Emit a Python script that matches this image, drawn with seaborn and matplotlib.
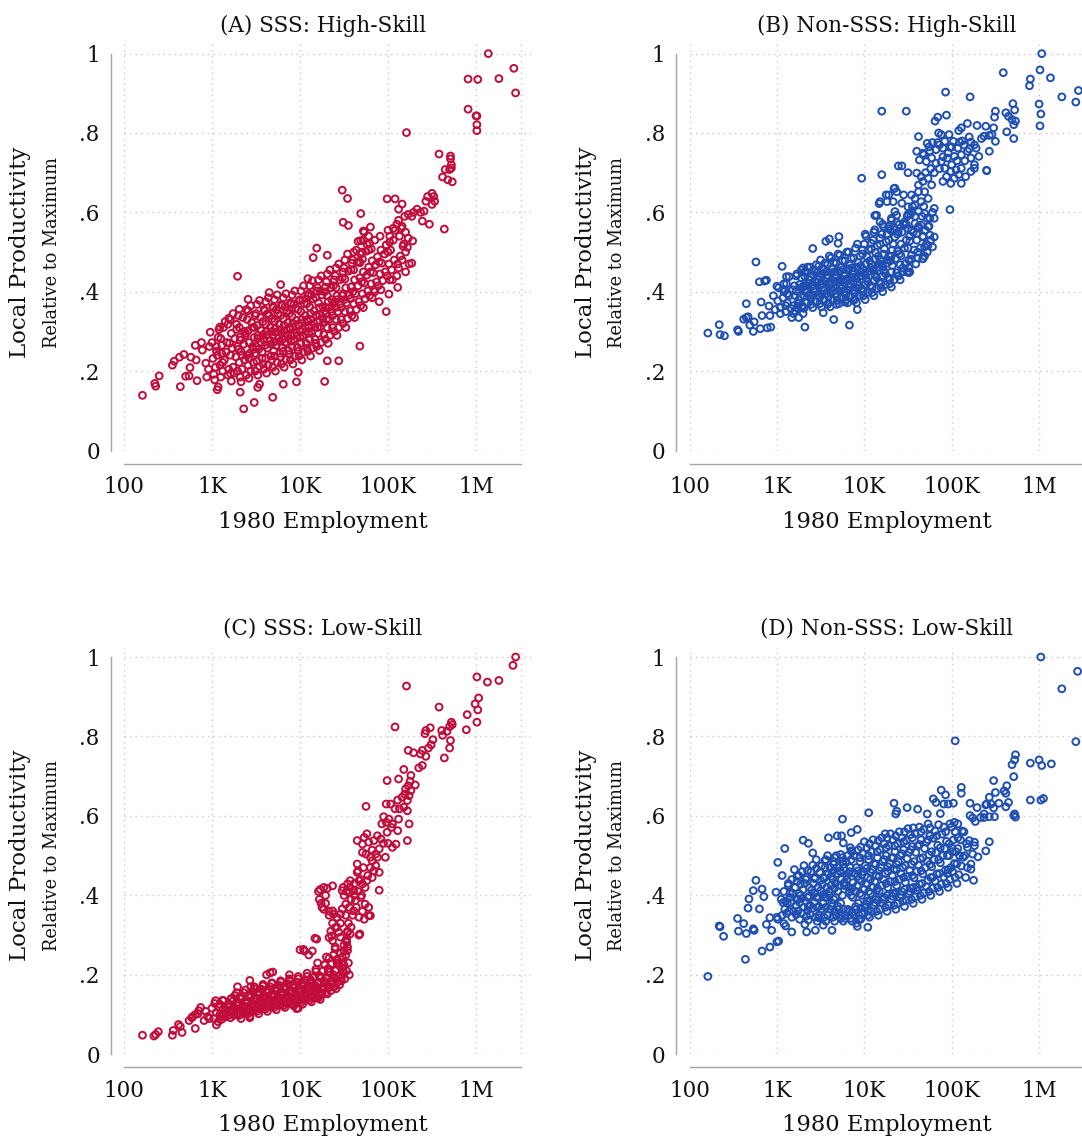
import numpy as np
import pandas as pd
import matplotlib
matplotlib.use("Agg")
import matplotlib.pyplot as plt
from matplotlib.ticker import NullLocator, FixedLocator, FixedFormatter
import seaborn as sns

# ---------------- data: (log10 1980 employment, local productivity relative to max) ----------------
a_tail = [(2.21,0.139),(2.35,0.169),(2.36,0.162),(2.40,0.188),(2.55,0.215),(2.57,0.225),(2.64,0.161),(2.63,0.235),
          (2.68,0.242),(2.70,0.187),(2.74,0.188),(2.76,0.235),(2.81,0.265),(2.75,0.209),(2.82,0.228),(2.83,0.176),
          (2.88,0.272),(2.89,0.253),(2.93,0.220),(2.94,0.185),(3.00,0.272),(3.05,0.250),(3.06,0.153),(3.07,0.160),
          (3.09,0.311),(3.10,0.185),(3.19,0.333),(3.21,0.194),(3.29,0.439),(3.31,0.356),(3.32,0.147),(3.33,0.173),
          (3.41,0.381),(3.48,0.121),(3.36,0.105),(3.52,0.159),(3.54,0.167),(3.65,0.398),(3.69,0.134),(3.78,0.418),
          (3.81,0.167),(3.96,0.173),(3.98,0.197),(4.09,0.433),(4.15,0.486),(4.19,0.510),(4.31,0.492),(4.28,0.174),
          (4.31,0.226),(4.44,0.226),(4.48,0.656),(4.54,0.635),(4.49,0.575),(4.55,0.567),(4.68,0.263),(4.69,0.597),
          (4.69,0.529),(4.72,0.529),(4.72,0.553),(4.80,0.563),(4.68,0.473),(4.99,0.634),(5.08,0.634),(4.98,0.350),
          (5.01,0.394),(5.11,0.411),(5.21,0.801),(5.16,0.621),(5.12,0.608),(5.19,0.590),(5.23,0.595),(5.27,0.590),
          (5.23,0.535),(5.28,0.528),(5.22,0.512),(5.20,0.450),(5.24,0.470),(5.27,0.472),(5.29,0.600),(5.33,0.608),
          (5.37,0.600),(5.41,0.603),(5.43,0.628),(5.39,0.578),(5.50,0.620),(5.53,0.628),(5.45,0.640),(5.50,0.648),
          (5.52,0.640),(5.47,0.570),(5.58,0.747),(5.62,0.689),(5.65,0.708),(5.68,0.682),(5.64,0.558),(5.71,0.735),
          (5.71,0.742),(5.72,0.720),(5.72,0.712),(5.70,0.708),(5.73,0.677),(5.91,0.936),(5.91,0.860),(6.00,0.843),
          (6.01,0.843),(6.01,0.821),(6.01,0.806),(6.02,0.935),(6.14,1.000),(6.26,0.937),(6.43,0.963),(6.45,0.901),
          (4.73,0.550),(4.76,0.520),(4.78,0.540),(4.66,0.527),(5.00,0.555),(5.02,0.540),(5.06,0.560),(5.10,0.570),
          (5.12,0.580),(5.15,0.560),(5.20,0.550),(5.18,0.520),(5.20,0.500),(5.16,0.480),(5.11,0.470),(5.10,0.440),
          (5.05,0.430),(4.85,0.400),(4.90,0.375)]
a_core = [(2.96,0.205),(2.98,0.298),(3.01,0.232),(2.97,0.262),(3.02,0.192),
          (3.04,0.210),(3.07,0.285),(3.06,0.240),(3.03,0.178),(3.08,0.305),(3.05,0.262),
          (3.12,0.200),(3.14,0.228),(3.17,0.272),(3.13,0.310),(3.16,0.248),(3.18,0.190),(3.11,0.265),(3.15,0.325),
          (3.22,0.175),(3.24,0.210),(3.27,0.236),(3.23,0.258),(3.26,0.282),(3.28,0.305),(3.21,0.330),(3.25,0.195),(3.29,0.262),(3.24,0.345),
          (3.32,0.185),(3.34,0.205),(3.37,0.228),(3.33,0.250),(3.36,0.268),(3.38,0.290),(3.31,0.310),(3.35,0.335),(3.39,0.355),(3.34,0.240),(3.37,0.300),(3.32,0.278),
          (3.42,0.182),(3.44,0.200),(3.47,0.222),(3.43,0.245),(3.46,0.262),(3.48,0.285),(3.41,0.302),(3.45,0.322),(3.49,0.340),(3.44,0.365),(3.47,0.255),(3.42,0.232),(3.46,0.310),
          (3.52,0.190),(3.54,0.212),(3.57,0.232),(3.53,0.255),(3.56,0.272),(3.58,0.292),(3.51,0.315),(3.55,0.335),(3.59,0.355),(3.54,0.378),(3.57,0.248),(3.52,0.282),(3.56,0.302),(3.58,0.218),
          (3.62,0.195),(3.64,0.215),(3.67,0.238),(3.63,0.258),(3.66,0.278),(3.68,0.300),(3.61,0.318),(3.65,0.340),(3.69,0.362),(3.64,0.385),(3.67,0.268),(3.62,0.290),(3.66,0.310),(3.68,0.228),(3.63,0.345),
          (3.72,0.200),(3.74,0.222),(3.77,0.245),(3.73,0.265),(3.76,0.285),(3.78,0.305),(3.71,0.325),(3.75,0.345),(3.79,0.368),(3.74,0.392),(3.77,0.275),(3.72,0.298),(3.76,0.318),(3.78,0.235),(3.73,0.355),
          (3.82,0.210),(3.84,0.230),(3.87,0.252),(3.83,0.272),(3.86,0.292),(3.88,0.310),(3.81,0.332),(3.85,0.352),(3.89,0.372),(3.84,0.395),(3.87,0.282),(3.82,0.302),(3.86,0.322),(3.88,0.242),(3.83,0.362),
          (3.92,0.218),(3.94,0.238),(3.97,0.260),(3.93,0.280),(3.96,0.298),(3.98,0.318),(3.91,0.338),(3.95,0.358),(3.99,0.378),(3.94,0.402),(3.97,0.290),(3.92,0.310),(3.96,0.328),(3.98,0.250),(3.93,0.368),
          (4.02,0.228),(4.04,0.248),(4.07,0.270),(4.03,0.290),(4.06,0.310),(4.08,0.330),(4.01,0.350),(4.05,0.370),(4.09,0.390),(4.04,0.415),(4.07,0.300),(4.02,0.320),(4.06,0.340),(4.08,0.258),(4.03,0.380),
          (4.12,0.238),(4.14,0.258),(4.17,0.280),(4.13,0.300),(4.16,0.320),(4.18,0.340),(4.11,0.362),(4.15,0.382),(4.19,0.402),(4.14,0.428),(4.17,0.310),(4.12,0.330),(4.16,0.352),(4.18,0.270),(4.13,0.392),
          (4.22,0.252),(4.24,0.272),(4.27,0.292),(4.23,0.312),(4.26,0.332),(4.28,0.352),(4.21,0.372),(4.25,0.392),(4.29,0.412),(4.24,0.440),(4.27,0.322),(4.22,0.342),(4.26,0.362),(4.23,0.402),
          (4.32,0.270),(4.34,0.290),(4.37,0.310),(4.33,0.330),(4.36,0.350),(4.38,0.370),(4.31,0.390),(4.35,0.410),(4.39,0.430),(4.34,0.455),(4.37,0.340),(4.32,0.360),(4.36,0.380),
          (4.42,0.290),(4.44,0.310),(4.47,0.330),(4.43,0.350),(4.46,0.370),(4.48,0.390),(4.41,0.410),(4.45,0.430),(4.49,0.450),(4.44,0.470),(4.47,0.360),(4.42,0.380),
          (4.52,0.310),(4.54,0.332),(4.57,0.352),(4.53,0.372),(4.56,0.392),(4.58,0.412),(4.51,0.432),(4.55,0.452),(4.59,0.472),(4.54,0.495),(4.57,0.382),
          (4.62,0.335),(4.64,0.355),(4.67,0.375),(4.63,0.395),(4.66,0.415),(4.68,0.435),(4.61,0.455),(4.65,0.475),(4.69,0.495),(4.64,0.505),
          (4.72,0.360),(4.74,0.382),(4.77,0.402),(4.73,0.422),(4.76,0.442),(4.78,0.462),(4.71,0.482),(4.75,0.502),(4.79,0.522),
          (4.82,0.385),(4.84,0.405),(4.87,0.425),(4.83,0.448),(4.86,0.468),(4.88,0.488),(4.81,0.508),(4.85,0.530),
          (4.92,0.405),(4.94,0.428),(4.97,0.450),(4.93,0.472),(4.96,0.495),(4.98,0.518),(4.91,0.540),
          (5.02,0.430),(5.04,0.455),(5.07,0.480),(5.03,0.505),(5.06,0.530),(5.08,0.555),
          (5.12,0.460),(5.14,0.490),(5.17,0.515),(5.13,0.540),(5.16,0.565)]
a_core2 = [(3.09,0.215),(3.11,0.245),(3.10,0.282),(3.12,0.222),
           (3.19,0.205),(3.21,0.240),(3.20,0.270),(3.22,0.295),(3.18,0.318),
           (3.29,0.200),(3.31,0.222),(3.30,0.255),(3.32,0.285),(3.28,0.318),(3.30,0.340),
           (3.39,0.190),(3.41,0.215),(3.40,0.240),(3.42,0.272),(3.38,0.295),(3.40,0.330),(3.41,0.352),
           (3.49,0.200),(3.51,0.225),(3.50,0.262),(3.52,0.290),(3.48,0.310),(3.50,0.345),(3.51,0.368),(3.49,0.245),
           (3.59,0.205),(3.61,0.232),(3.60,0.265),(3.62,0.300),(3.58,0.325),(3.60,0.352),(3.61,0.375),(3.59,0.280),
           (3.69,0.210),(3.71,0.238),(3.70,0.272),(3.72,0.308),(3.68,0.332),(3.70,0.360),(3.71,0.380),(3.69,0.290),(3.70,0.250),
           (3.79,0.218),(3.81,0.250),(3.80,0.280),(3.82,0.315),(3.78,0.340),(3.80,0.365),(3.81,0.385),(3.79,0.295),(3.80,0.260),
           (3.89,0.228),(3.91,0.262),(3.90,0.290),(3.92,0.320),(3.88,0.345),(3.90,0.370),(3.91,0.392),(3.89,0.305),(3.90,0.275),
           (3.99,0.238),(4.01,0.270),(4.00,0.300),(4.02,0.330),(3.98,0.355),(4.00,0.380),(4.01,0.402),(3.99,0.315),(4.00,0.285),
           (4.09,0.250),(4.11,0.280),(4.10,0.310),(4.12,0.345),(4.08,0.370),(4.10,0.395),(4.11,0.415),(4.09,0.325),(4.10,0.295),
           (4.19,0.262),(4.21,0.295),(4.20,0.325),(4.22,0.360),(4.18,0.385),(4.20,0.410),(4.21,0.430),(4.19,0.340),(4.20,0.310),
           (4.29,0.280),(4.31,0.310),(4.30,0.345),(4.32,0.375),(4.28,0.400),(4.30,0.425),(4.31,0.445),(4.29,0.360),(4.30,0.330),
           (4.39,0.300),(4.41,0.330),(4.40,0.360),(4.42,0.390),(4.38,0.415),(4.40,0.440),(4.41,0.460),(4.39,0.375),
           (4.49,0.320),(4.51,0.350),(4.50,0.380),(4.52,0.410),(4.48,0.435),(4.50,0.460),(4.51,0.480),(4.49,0.395),
           (4.59,0.340),(4.61,0.370),(4.60,0.400),(4.62,0.430),(4.58,0.455),(4.60,0.480),(4.61,0.500),
           (4.69,0.365),(4.71,0.395),(4.70,0.425),(4.72,0.450),(4.68,0.475),(4.70,0.500),
           (4.79,0.390),(4.81,0.420),(4.80,0.450),(4.82,0.478),(4.78,0.505),
           (4.89,0.415),(4.91,0.445),(4.90,0.475),(4.92,0.505),
           (4.99,0.440),(5.01,0.470),(5.00,0.500),(5.02,0.525)]

b_tail = [(2.21,0.296),(2.34,0.317),(2.35,0.292),(2.40,0.289),(2.55,0.304),(2.56,0.300),(2.62,0.331),(2.65,0.335),
          (2.67,0.337),(2.65,0.370),(2.69,0.316),(2.73,0.300),(2.74,0.324),(2.76,0.475),(2.80,0.425),(2.86,0.427),
          (2.88,0.429),(2.82,0.374),(2.83,0.340),(2.81,0.307),(2.89,0.309),(2.93,0.311),(2.91,0.364),(2.92,0.340),
          (3.00,0.414),(3.06,0.464),(3.01,0.377),(3.11,0.438),(3.14,0.438),(3.17,0.335),(3.25,0.335),(3.32,0.311),
          (3.41,0.509),(3.56,0.527),(3.60,0.533),(3.71,0.539),(3.70,0.522),(3.65,0.330),(3.83,0.316),(3.30,0.460),
          (3.32,0.450),(2.96,0.390),(3.02,0.410),(3.08,0.400),(3.12,0.395),(2.98,0.355),(3.04,0.345),(3.10,0.350),
          (3.19,0.345),(3.24,0.360),(3.30,0.345),(3.53,0.347),(3.92,0.355),(4.51,0.448),(4.67,0.483),
          (6.03,1.000),(6.01,0.959),(6.13,0.939),(5.90,0.936),(5.89,0.919),(5.59,0.952),(6.26,0.891),(6.42,0.878),
          (6.45,0.907),(6.00,0.873),(6.02,0.848),(6.01,0.818),(4.93,0.903),(5.21,0.891),(4.20,0.855),(4.48,0.855),
          (4.98,0.607),(4.20,0.695),(3.97,0.686),(4.39,0.717),(4.43,0.717),(4.50,0.700),(4.17,0.622),(4.12,0.592),
          (4.25,0.644),(4.34,0.660),(5.40,0.706)]
b_core = [(3.04,0.360),(3.07,0.385),(3.12,0.372),(3.09,0.405),(3.14,0.390),(3.16,0.358),(3.11,0.420),(3.18,0.405),
          (3.21,0.352),(3.24,0.370),(3.27,0.388),(3.22,0.402),(3.26,0.418),(3.28,0.435),(3.23,0.445),(3.25,0.380),(3.29,0.360),(3.27,0.410),
          (3.31,0.358),(3.34,0.372),(3.37,0.390),(3.32,0.405),(3.36,0.420),(3.38,0.438),(3.33,0.452),(3.35,0.462),(3.39,0.382),(3.34,0.398),(3.37,0.430),(3.31,0.415),
          (3.41,0.360),(3.44,0.375),(3.47,0.392),(3.42,0.408),(3.46,0.422),(3.48,0.440),(3.43,0.455),(3.45,0.468),(3.49,0.385),(3.44,0.400),(3.47,0.430),(3.41,0.415),(3.46,0.448),
          (3.51,0.362),(3.54,0.378),(3.57,0.395),(3.52,0.410),(3.56,0.425),(3.58,0.442),(3.53,0.458),(3.55,0.472),(3.59,0.388),(3.54,0.402),(3.57,0.435),(3.51,0.418),(3.56,0.450),(3.58,0.368),
          (3.61,0.362),(3.64,0.378),(3.67,0.395),(3.62,0.410),(3.66,0.426),(3.68,0.442),(3.63,0.458),(3.65,0.474),(3.69,0.388),(3.64,0.402),(3.67,0.435),(3.61,0.418),(3.66,0.450),(3.68,0.368),(3.62,0.485),
          (3.71,0.370),(3.74,0.385),(3.77,0.400),(3.72,0.415),(3.76,0.430),(3.78,0.446),(3.73,0.462),(3.75,0.478),(3.79,0.392),(3.74,0.408),(3.77,0.440),(3.71,0.424),(3.76,0.456),(3.78,0.374),(3.72,0.492),
          (3.81,0.372),(3.84,0.388),(3.87,0.404),(3.82,0.420),(3.86,0.436),(3.88,0.452),(3.83,0.468),(3.85,0.484),(3.89,0.396),(3.84,0.412),(3.87,0.444),(3.81,0.428),(3.86,0.460),(3.88,0.378),(3.82,0.500),
          (3.91,0.372),(3.94,0.390),(3.97,0.408),(3.92,0.424),(3.96,0.440),(3.98,0.458),(3.93,0.474),(3.95,0.490),(3.99,0.400),(3.94,0.416),(3.97,0.450),(3.91,0.434),(3.96,0.466),(3.98,0.505),(3.92,0.520),
          (4.01,0.380),(4.04,0.398),(4.07,0.416),(4.02,0.434),(4.06,0.452),(4.08,0.470),(4.03,0.488),(4.05,0.506),(4.09,0.410),(4.04,0.425),(4.07,0.460),(4.01,0.443),(4.06,0.478),(4.08,0.522),(4.02,0.540),
          (4.11,0.390),(4.14,0.408),(4.17,0.426),(4.12,0.444),(4.16,0.462),(4.18,0.480),(4.13,0.498),(4.15,0.516),(4.19,0.420),(4.14,0.436),(4.17,0.470),(4.11,0.454),(4.16,0.490),(4.18,0.535),(4.12,0.556),
          (4.21,0.400),(4.24,0.418),(4.27,0.436),(4.22,0.454),(4.26,0.472),(4.28,0.490),(4.23,0.508),(4.25,0.526),(4.29,0.430),(4.24,0.446),(4.27,0.480),(4.21,0.464),(4.26,0.545),(4.28,0.565),
          (4.31,0.412),(4.34,0.430),(4.37,0.448),(4.32,0.466),(4.36,0.484),(4.38,0.502),(4.33,0.520),(4.35,0.538),(4.39,0.440),(4.34,0.556),(4.37,0.575),(4.31,0.490),
          (4.41,0.430),(4.44,0.450),(4.47,0.470),(4.42,0.490),(4.46,0.510),(4.48,0.530),(4.43,0.550),(4.45,0.570),(4.49,0.590),(4.44,0.460),
          (4.51,0.460),(4.54,0.482),(4.57,0.505),(4.52,0.528),(4.56,0.550),(4.58,0.572),(4.53,0.595),(4.55,0.615),
          (4.61,0.485),(4.64,0.510),(4.67,0.540),(4.62,0.565),(4.66,0.590),(4.68,0.615),
          (4.72,0.500),(4.76,0.530),(4.74,0.565),(4.78,0.600)]
b_core2 = [(3.10,0.365),(3.12,0.395),(3.08,0.420),
           (3.19,0.365),(3.21,0.390),(3.20,0.415),(3.22,0.440),
           (3.29,0.365),(3.31,0.390),(3.30,0.412),(3.32,0.438),(3.28,0.455),
           (3.39,0.368),(3.41,0.392),(3.40,0.418),(3.42,0.442),(3.38,0.462),
           (3.49,0.370),(3.51,0.395),(3.50,0.420),(3.52,0.445),(3.48,0.465),(3.50,0.480),
           (3.59,0.372),(3.61,0.398),(3.60,0.422),(3.62,0.448),(3.58,0.468),(3.60,0.490),
           (3.69,0.378),(3.71,0.402),(3.70,0.428),(3.72,0.452),(3.68,0.472),(3.70,0.495),
           (3.79,0.380),(3.81,0.405),(3.80,0.432),(3.82,0.458),(3.78,0.478),(3.80,0.500),
           (3.89,0.382),(3.91,0.410),(3.90,0.438),(3.92,0.462),(3.88,0.485),(3.90,0.510),
           (3.99,0.390),(4.01,0.418),(4.00,0.445),(4.02,0.470),(3.98,0.495),(4.00,0.520),(4.01,0.545),
           (4.09,0.398),(4.11,0.428),(4.10,0.455),(4.12,0.482),(4.08,0.508),(4.10,0.530),(4.11,0.550),
           (4.19,0.410),(4.21,0.440),(4.20,0.468),(4.22,0.495),(4.18,0.520),(4.20,0.545),(4.21,0.570),
           (4.29,0.420),(4.31,0.450),(4.30,0.478),(4.32,0.505),(4.28,0.530),(4.30,0.555),(4.31,0.580),
           (4.39,0.440),(4.41,0.468),(4.40,0.495),(4.42,0.520),(4.38,0.545),(4.40,0.570),
           (4.49,0.450),(4.51,0.480),(4.50,0.510),(4.52,0.540),(4.48,0.570),(4.50,0.595),
           (4.59,0.470),(4.61,0.500),(4.60,0.530),(4.62,0.560),(4.58,0.590),
           (4.69,0.490),(4.71,0.520),(4.70,0.555),(4.72,0.585)]
b_upper = [(4.62,0.652),(4.69,0.652),(4.73,0.635),(4.65,0.627),(4.58,0.635),(4.54,0.644),(4.45,0.644),(4.37,0.652),
           (4.35,0.661),(4.28,0.644),(4.18,0.627),(4.26,0.627),(4.33,0.627),(4.43,0.623),(4.50,0.614),(4.58,0.619),
           (4.54,0.602),(4.62,0.602),(4.69,0.597),(4.75,0.585),(4.80,0.585),(4.80,0.610),(4.14,0.593),(4.18,0.576),
           (4.22,0.564),(4.28,0.559),(4.35,0.602),(4.37,0.593),(4.31,0.585),(4.39,0.551),(4.46,0.576),(4.50,0.559),
           (4.54,0.555),(4.60,0.547),(4.65,0.568),(4.73,0.564),(4.67,0.538),(4.73,0.517),(4.78,0.513),(4.80,0.538),
           (4.75,0.543),(4.69,0.513),(4.67,0.484),(4.54,0.492),(4.52,0.450),(4.60,0.699),(4.65,0.690),(4.67,0.678),
           (4.73,0.686),(4.77,0.669),(4.62,0.669),(4.94,0.845),(4.84,0.840),(4.81,0.830),(4.97,0.796),(4.88,0.796),
           (4.85,0.800),(4.62,0.791),(4.72,0.774),(4.78,0.776),(4.84,0.776),(4.92,0.779),(5.02,0.779),(5.09,0.777),
           (5.14,0.770),(5.22,0.777),(5.26,0.770),(4.60,0.754),(4.67,0.749),(4.75,0.755),(4.82,0.758),(4.90,0.762),
           (4.98,0.764),(5.07,0.762),(5.11,0.745),(5.18,0.754),(5.28,0.762),(5.22,0.737),(5.31,0.741),(5.26,0.720),
           (4.63,0.732),(4.71,0.728),(4.77,0.737),(4.82,0.724),(4.88,0.728),(4.95,0.737),(5.03,0.741),(4.92,0.711),
           (4.99,0.703),(5.05,0.707),(5.11,0.711),(5.03,0.686),(5.11,0.673),(4.99,0.673),(5.22,0.703),(5.26,0.711),
           (4.90,0.678),(5.39,0.817),(5.29,0.819),(5.18,0.824),(5.11,0.813),(5.08,0.806),(5.50,0.779),(5.46,0.796),
           (5.43,0.794),(5.37,0.792),(5.34,0.786),(5.43,0.754),(5.40,0.705),(5.69,0.834),(5.65,0.842),(5.62,0.851),
           (5.73,0.830),(5.72,0.858),(5.71,0.821),(5.70,0.874),(5.50,0.855),(5.49,0.840),(5.48,0.813),(5.63,0.803),
           (5.71,0.786),(4.90,0.740),(4.96,0.750),(5.00,0.720),(5.06,0.730),(5.15,0.730),(5.20,0.760),(4.86,0.710),
           (4.94,0.690),(5.08,0.695),(5.16,0.690),(4.80,0.700),(4.76,0.710),(4.70,0.700),(4.68,0.745),(4.74,0.765),
           (4.86,0.770),(5.00,0.765),(5.12,0.780),(5.20,0.790)]

c_tail = [(2.21,0.048),(2.34,0.046),(2.36,0.050),(2.39,0.057),(2.55,0.048),(2.56,0.060),(2.66,0.055),(2.62,0.075),
          (2.64,0.070),(2.74,0.085),(2.78,0.095),(2.81,0.100),(2.85,0.110),(2.87,0.118),(2.77,0.092),(2.81,0.065),
          (2.84,0.102),(2.91,0.085),(2.95,0.095),(2.97,0.090),(3.00,0.116),(3.05,0.074),(3.04,0.135),(3.13,0.135),
          (2.93,0.108),(3.43,0.092),(3.62,0.200),(3.66,0.205),(3.69,0.207),(3.43,0.186),(3.88,0.200),(3.96,0.115),
          (3.98,0.116),(4.19,0.290),(4.04,0.264),(4.00,0.263),(4.05,0.260),(4.10,0.250),(4.14,0.260),(4.19,0.142),
          (3.29,0.170),(3.44,0.170),(4.17,0.292),(4.21,0.410),(4.23,0.415),(4.27,0.420),(4.29,0.400),(4.25,0.370),
          (4.27,0.365),(4.33,0.360),(4.33,0.350),(4.22,0.390),(4.24,0.380),(4.53,0.290),(4.54,0.310),(4.67,0.300),
          (4.42,0.320),(4.35,0.310),(4.37,0.330)]
c_core = [(3.02,0.090),(3.05,0.105),(3.08,0.118),(3.03,0.128),(3.07,0.082),(3.09,0.100),
          (3.11,0.088),(3.13,0.100),(3.16,0.112),(3.18,0.124),(3.12,0.136),(3.15,0.094),(3.17,0.106),(3.19,0.118),
          (3.21,0.092),(3.23,0.104),(3.26,0.116),(3.28,0.128),(3.22,0.140),(3.25,0.098),(3.27,0.110),(3.29,0.122),(3.24,0.134),(3.26,0.148),
          (3.31,0.098),(3.33,0.110),(3.36,0.122),(3.38,0.134),(3.32,0.146),(3.35,0.104),(3.37,0.116),(3.39,0.128),(3.34,0.140),(3.36,0.155),(3.33,0.090),
          (3.41,0.102),(3.43,0.114),(3.46,0.126),(3.48,0.138),(3.42,0.150),(3.45,0.108),(3.47,0.120),(3.49,0.132),(3.44,0.144),(3.46,0.158),(3.43,0.096),(3.48,0.165),
          (3.51,0.108),(3.53,0.120),(3.56,0.132),(3.58,0.144),(3.52,0.156),(3.55,0.114),(3.57,0.126),(3.59,0.138),(3.54,0.150),(3.56,0.164),(3.53,0.102),(3.58,0.172),(3.51,0.140),
          (3.61,0.114),(3.63,0.126),(3.66,0.138),(3.68,0.150),(3.62,0.162),(3.65,0.120),(3.67,0.132),(3.69,0.144),(3.64,0.156),(3.66,0.170),(3.63,0.108),(3.68,0.178),(3.61,0.146),
          (3.71,0.118),(3.73,0.130),(3.76,0.142),(3.78,0.154),(3.72,0.166),(3.75,0.124),(3.77,0.136),(3.79,0.148),(3.74,0.160),(3.76,0.174),(3.73,0.112),(3.78,0.182),(3.71,0.150),
          (3.81,0.122),(3.83,0.134),(3.86,0.146),(3.88,0.158),(3.82,0.170),(3.85,0.128),(3.87,0.140),(3.89,0.152),(3.84,0.164),(3.86,0.178),(3.83,0.118),(3.88,0.186),(3.81,0.155),
          (3.91,0.126),(3.93,0.138),(3.96,0.150),(3.98,0.162),(3.92,0.174),(3.95,0.132),(3.97,0.144),(3.99,0.156),(3.94,0.168),(3.96,0.182),(3.93,0.122),(3.98,0.190),(3.91,0.160),
          (4.01,0.130),(4.03,0.142),(4.06,0.154),(4.08,0.166),(4.02,0.178),(4.05,0.136),(4.07,0.148),(4.09,0.160),(4.04,0.172),(4.06,0.186),(4.03,0.126),(4.08,0.196),(4.01,0.165),
          (4.11,0.136),(4.13,0.148),(4.16,0.160),(4.18,0.172),(4.12,0.184),(4.15,0.142),(4.17,0.154),(4.19,0.166),(4.14,0.178),(4.16,0.194),(4.13,0.132),(4.18,0.208),(4.11,0.170),
          (4.21,0.142),(4.23,0.156),(4.26,0.170),(4.28,0.184),(4.22,0.198),(4.25,0.150),(4.27,0.164),(4.29,0.178),(4.24,0.192),(4.26,0.210),(4.23,0.138),(4.28,0.225),(4.21,0.180),
          (4.31,0.152),(4.33,0.168),(4.36,0.184),(4.38,0.200),(4.32,0.216),(4.35,0.160),(4.37,0.176),(4.39,0.192),(4.34,0.208),(4.36,0.228),(4.33,0.242),(4.38,0.170),
          (4.41,0.165),(4.43,0.182),(4.46,0.200),(4.48,0.218),(4.42,0.236),(4.45,0.175),(4.47,0.192),(4.49,0.210),(4.44,0.228),(4.46,0.255),
          (4.51,0.190),(4.53,0.210),(4.55,0.230),(4.52,0.250),(4.54,0.270),(4.56,0.200),(4.50,0.225),(4.53,0.282)]
c_core2 = [(3.10,0.095),(3.12,0.112),(3.09,0.126),
           (3.19,0.098),(3.21,0.112),(3.20,0.126),(3.22,0.140),
           (3.29,0.100),(3.31,0.115),(3.30,0.130),(3.32,0.144),(3.28,0.155),
           (3.39,0.105),(3.41,0.120),(3.40,0.135),(3.42,0.150),(3.38,0.162),
           (3.49,0.112),(3.51,0.127),(3.50,0.142),(3.52,0.156),(3.48,0.170),
           (3.59,0.118),(3.61,0.133),(3.60,0.148),(3.62,0.162),(3.58,0.176),
           (3.69,0.122),(3.71,0.137),(3.70,0.152),(3.72,0.166),(3.68,0.180),
           (3.79,0.126),(3.81,0.141),(3.80,0.156),(3.82,0.170),(3.78,0.185),
           (3.89,0.130),(3.91,0.145),(3.90,0.160),(3.92,0.174),(3.88,0.190),
           (3.99,0.135),(4.01,0.150),(4.00,0.165),(4.02,0.180),(3.98,0.196),
           (4.09,0.140),(4.11,0.156),(4.10,0.172),(4.12,0.188),(4.08,0.204),
           (4.19,0.146),(4.21,0.162),(4.20,0.178),(4.22,0.196),(4.18,0.214),(4.20,0.230),
           (4.29,0.155),(4.31,0.172),(4.30,0.190),(4.32,0.208),(4.28,0.226),(4.30,0.245),
           (4.39,0.170),(4.41,0.190),(4.40,0.210),(4.42,0.230),(4.38,0.250),(4.40,0.270),
           (4.47,0.185),(4.49,0.205),(4.48,0.245),(4.50,0.275),(4.46,0.295)]
c_steep = [(6.45,1.000),(6.42,0.979),(6.01,0.950),(6.13,0.937),(6.26,0.941),(5.21,0.927),(5.58,0.874),(6.03,0.897),
           (5.99,0.882),(6.02,0.867),(5.90,0.855),(6.01,0.836),(5.89,0.817),(5.72,0.836),(5.73,0.830),(5.70,0.825),
           (5.61,0.815),(5.67,0.813),(5.62,0.803),(5.71,0.790),(5.70,0.771),(5.64,0.746),(5.43,0.815),(5.48,0.822),
           (5.42,0.807),(5.51,0.792),(5.49,0.779),(5.46,0.771),(5.39,0.765),(5.43,0.750),(5.37,0.756),(5.23,0.765),
           (5.29,0.759),(5.35,0.721),(5.39,0.727),(5.18,0.717),(5.08,0.824),(4.99,0.689),(5.12,0.693),(5.26,0.702),
           (5.25,0.687),(5.23,0.676),(5.20,0.668),(5.31,0.678),(5.19,0.655),(5.24,0.651),(5.26,0.664),(5.16,0.647),
           (5.11,0.640),(5.22,0.639),(4.98,0.630),(5.03,0.630),(5.08,0.618),(5.13,0.618),(5.18,0.622),(5.22,0.613),
           (4.75,0.624),(4.95,0.598),(5.01,0.592),(4.98,0.584),(5.05,0.580),(5.12,0.592),(4.93,0.580),(5.04,0.571),
           (5.11,0.563),(4.99,0.559),(5.24,0.580),(5.22,0.538),(4.65,0.538),(4.73,0.546),(4.76,0.555),(4.71,0.529),
           (4.78,0.534),(4.84,0.538),(4.88,0.550),(4.92,0.542),(4.95,0.531),(5.00,0.531),(5.05,0.521),(5.09,0.529),
           (4.90,0.517),(4.82,0.514),(4.86,0.504),(4.75,0.504),(4.71,0.508),(4.80,0.496),(4.88,0.496),(4.97,0.496),
           (4.82,0.487),(4.86,0.475),(4.84,0.462),(4.90,0.458),(4.82,0.445),(4.76,0.437),(4.71,0.429),(4.67,0.437),
           (4.65,0.458),(4.57,0.437),(4.54,0.429),(4.49,0.420),(4.48,0.412),(4.56,0.408),(4.61,0.412),(4.37,0.424),
           (4.31,0.418),(4.29,0.380),(4.65,0.479),(4.66,0.462),(4.90,0.413),(4.63,0.387),(4.69,0.395),(4.74,0.378),
           (4.78,0.370),(4.78,0.349),(4.73,0.340),(4.67,0.345),(4.61,0.361),(4.56,0.370),(4.52,0.378),(4.48,0.366),
           (4.46,0.353),(4.42,0.345),(4.38,0.353),(4.37,0.361),(4.40,0.319),(4.44,0.307),(4.54,0.307),(4.57,0.303),
           (4.68,0.303),(4.80,0.349),(4.36,0.298),(4.33,0.294),(4.37,0.286),(4.40,0.265),(4.42,0.239),(4.50,0.261),
           (4.48,0.231),(4.52,0.286),(4.54,0.261),(4.58,0.390),(4.62,0.400),(4.66,0.410),(4.70,0.400),(4.60,0.350),
           (4.64,0.370),(4.50,0.400),(4.52,0.350),(4.46,0.330),(4.55,0.330),(4.58,0.320),(4.71,0.360),(4.69,0.440),
           (4.74,0.420),(4.77,0.450),(4.80,0.470),(4.72,0.470),(4.62,0.430),(4.57,0.420),(4.53,0.410)]

d_tail = [(2.21,0.196),(2.34,0.323),(2.35,0.321),(2.39,0.297),(2.55,0.342),(2.56,0.310),(2.62,0.329),(2.65,0.304),
          (2.64,0.239),(2.68,0.391),(2.67,0.368),(2.73,0.316),(2.74,0.312),(2.76,0.438),(2.73,0.412),(2.80,0.366),
          (2.83,0.416),(2.85,0.397),(2.83,0.260),(2.92,0.270),(2.88,0.327),(2.92,0.344),(2.94,0.312),(2.99,0.408),
          (3.01,0.483),(3.01,0.340),(3.00,0.345),(3.00,0.283),(3.02,0.285),(3.06,0.450),(3.09,0.518),(3.08,0.329),
          (3.10,0.323),(3.17,0.308),(3.05,0.390),(3.07,0.382),(3.10,0.385),(3.30,0.539),(3.36,0.531),(3.41,0.507),
          (3.32,0.327),(3.34,0.308),(3.44,0.312),(3.63,0.312),(3.48,0.344),(3.53,0.325),(3.59,0.545),(3.69,0.550),
          (3.74,0.550),(3.76,0.532),(3.73,0.503),(3.75,0.592),(3.85,0.558),(3.92,0.566),(4.05,0.608),(3.84,0.520),
          (3.91,0.330),(3.92,0.322),(4.04,0.320)]
d_right = [(6.02,1.000),(6.44,0.964),(6.26,0.920),(6.42,0.787),(5.04,0.789),(5.73,0.754),(5.72,0.741),(5.69,0.729),
           (5.90,0.733),(6.00,0.741),(6.03,0.727),(6.14,0.731),(5.71,0.699),(5.48,0.689),(5.63,0.676),(5.50,0.659),
           (5.60,0.663),(5.62,0.657),(5.65,0.634),(5.62,0.623),(5.43,0.647),(5.45,0.630),(5.54,0.632),(5.40,0.630),
           (5.48,0.620),(5.37,0.605),(5.43,0.598),(5.49,0.598),(5.33,0.596),(5.72,0.605),(5.73,0.597),(5.71,0.601),
           (5.90,0.640),(6.02,0.640),(6.05,0.644),(5.11,0.672),(5.11,0.657),(4.88,0.665),(4.93,0.653),(4.79,0.643),
           (4.82,0.634),(4.91,0.630),(4.96,0.630),(5.02,0.632),(5.21,0.632),(5.29,0.621),(5.39,0.628),(4.34,0.632),
           (4.37,0.612),(4.36,0.605),(4.49,0.621),(4.61,0.617),(4.72,0.605),(4.87,0.606),(5.21,0.601),(5.24,0.595),
           (5.27,0.586),(5.37,0.596),(5.07,0.580),(5.03,0.584),(4.98,0.580),(5.00,0.572),(5.43,0.535),(5.39,0.512),
           (5.30,0.497),(5.25,0.438),(5.22,0.479),(5.22,0.466),(5.18,0.521),(5.24,0.504),(5.26,0.525),(5.20,0.538),
           (5.26,0.534)]
d_core = [(3.06,0.350),(3.09,0.365),(3.12,0.380),(3.15,0.395),(3.08,0.410),(3.13,0.425),(3.17,0.440),(3.11,0.355),
          (3.17,0.345),(3.19,0.360),(3.22,0.375),(3.24,0.390),(3.18,0.405),(3.21,0.420),(3.23,0.435),(3.25,0.450),(3.20,0.465),(3.22,0.352),
          (3.26,0.340),(3.28,0.355),(3.31,0.370),(3.33,0.385),(3.27,0.400),(3.30,0.415),(3.32,0.430),(3.34,0.445),(3.29,0.460),(3.31,0.475),(3.35,0.362),(3.28,0.392),
          (3.36,0.338),(3.38,0.352),(3.41,0.368),(3.43,0.383),(3.37,0.398),(3.40,0.414),(3.42,0.430),(3.44,0.445),(3.39,0.460),(3.41,0.476),(3.45,0.490),(3.38,0.375),(3.43,0.405),
          (3.46,0.335),(3.48,0.350),(3.51,0.366),(3.53,0.380),(3.47,0.396),(3.50,0.412),(3.52,0.428),(3.54,0.443),(3.49,0.458),(3.51,0.474),(3.55,0.488),(3.48,0.372),(3.53,0.402),(3.50,0.438),
          (3.56,0.335),(3.58,0.350),(3.61,0.365),(3.63,0.380),(3.57,0.395),(3.60,0.410),(3.62,0.425),(3.64,0.440),(3.59,0.455),(3.61,0.470),(3.65,0.485),(3.58,0.500),(3.63,0.372),(3.60,0.400),(3.62,0.448),
          (3.66,0.335),(3.68,0.350),(3.71,0.365),(3.73,0.380),(3.67,0.395),(3.70,0.410),(3.72,0.425),(3.74,0.440),(3.69,0.455),(3.71,0.470),(3.75,0.485),(3.68,0.500),(3.73,0.342),(3.70,0.372),(3.72,0.462),(3.66,0.418),
          (3.76,0.335),(3.78,0.350),(3.81,0.365),(3.83,0.410),(3.77,0.425),(3.80,0.440),(3.82,0.455),(3.84,0.470),(3.79,0.485),(3.81,0.500),(3.85,0.512),(3.78,0.342),(3.83,0.360),(3.80,0.450),(3.82,0.420),(3.76,0.478),
          (3.86,0.335),(3.88,0.350),(3.91,0.365),(3.93,0.380),(3.87,0.395),(3.90,0.410),(3.92,0.425),(3.94,0.440),(3.89,0.455),(3.91,0.470),(3.95,0.485),(3.88,0.500),(3.93,0.515),(3.90,0.372),(3.92,0.448),(3.86,0.418),(3.94,0.340),
          (3.96,0.340),(3.98,0.355),(4.01,0.370),(4.03,0.385),(3.97,0.400),(4.00,0.415),(4.02,0.430),(4.04,0.445),(3.99,0.460),(4.01,0.475),(4.05,0.490),(3.98,0.505),(4.03,0.520),(4.00,0.535),(4.02,0.378),(3.97,0.452),(4.04,0.350),
          (4.06,0.345),(4.08,0.360),(4.11,0.375),(4.13,0.390),(4.07,0.405),(4.10,0.420),(4.12,0.435),(4.14,0.450),(4.09,0.465),(4.11,0.480),(4.15,0.495),(4.08,0.510),(4.13,0.525),(4.10,0.540),(4.12,0.382),(4.07,0.458),(4.14,0.412),
          (4.16,0.350),(4.18,0.365),(4.21,0.380),(4.23,0.395),(4.17,0.410),(4.20,0.425),(4.22,0.440),(4.24,0.455),(4.19,0.470),(4.21,0.485),(4.25,0.500),(4.18,0.515),(4.23,0.530),(4.20,0.545),(4.22,0.390),(4.17,0.462),(4.24,0.555),
          (4.26,0.360),(4.28,0.375),(4.31,0.390),(4.33,0.405),(4.27,0.420),(4.30,0.435),(4.32,0.450),(4.34,0.465),(4.29,0.480),(4.31,0.495),(4.35,0.510),(4.28,0.525),(4.33,0.540),(4.30,0.555),(4.32,0.398),(4.27,0.472),
          (4.36,0.365),(4.38,0.380),(4.41,0.395),(4.43,0.410),(4.37,0.425),(4.40,0.440),(4.42,0.455),(4.44,0.470),(4.39,0.485),(4.41,0.500),(4.45,0.515),(4.38,0.530),(4.43,0.545),(4.40,0.560),(4.42,0.402),(4.37,0.478),
          (4.46,0.372),(4.48,0.388),(4.51,0.403),(4.53,0.418),(4.47,0.433),(4.50,0.448),(4.52,0.463),(4.54,0.478),(4.49,0.493),(4.51,0.508),(4.55,0.523),(4.48,0.538),(4.53,0.553),(4.50,0.568),(4.52,0.410),
          (4.56,0.380),(4.58,0.396),(4.61,0.412),(4.63,0.428),(4.57,0.444),(4.60,0.460),(4.62,0.476),(4.64,0.492),(4.59,0.508),(4.61,0.524),(4.65,0.540),(4.58,0.556),(4.63,0.572),(4.60,0.420),
          (4.66,0.390),(4.68,0.406),(4.71,0.422),(4.73,0.438),(4.67,0.454),(4.70,0.470),(4.72,0.486),(4.74,0.502),(4.69,0.518),(4.71,0.534),(4.75,0.550),(4.68,0.566),(4.73,0.580),
          (4.76,0.400),(4.78,0.418),(4.81,0.436),(4.83,0.454),(4.77,0.472),(4.80,0.490),(4.82,0.508),(4.84,0.526),(4.79,0.544),(4.81,0.562),(4.85,0.578),(4.78,0.445),
          (4.86,0.410),(4.88,0.428),(4.91,0.446),(4.93,0.464),(4.87,0.482),(4.90,0.500),(4.92,0.518),(4.94,0.536),(4.89,0.554),(4.91,0.572),(4.95,0.455),
          (4.96,0.420),(4.98,0.440),(5.01,0.460),(5.03,0.480),(4.97,0.500),(5.00,0.520),(5.02,0.540),(5.04,0.560),(4.99,0.470),(5.01,0.510),
          (5.06,0.430),(5.08,0.452),(5.11,0.474),(5.13,0.496),(5.07,0.518),(5.10,0.540),(5.12,0.562),(5.09,0.500),
          (5.16,0.445),(5.18,0.470),(5.15,0.500),(5.17,0.530),(5.14,0.560)]
d_core2 = [(3.14,0.360),(3.16,0.382),(3.15,0.405),(3.13,0.430),
           (3.24,0.360),(3.26,0.382),(3.25,0.405),(3.27,0.428),(3.23,0.448),
           (3.34,0.348),(3.36,0.372),(3.35,0.395),(3.37,0.420),(3.33,0.440),(3.35,0.462),
           (3.44,0.345),(3.46,0.370),(3.45,0.395),(3.47,0.420),(3.43,0.442),(3.45,0.468),
           (3.54,0.345),(3.56,0.370),(3.55,0.395),(3.57,0.420),(3.53,0.445),(3.55,0.470),(3.56,0.490),
           (3.64,0.345),(3.66,0.360),(3.65,0.390),(3.67,0.430),(3.63,0.458),(3.65,0.478),(3.66,0.495),
           (3.74,0.350),(3.76,0.365),(3.75,0.400),(3.77,0.432),(3.73,0.458),(3.75,0.495),
           (3.84,0.342),(3.86,0.358),(3.85,0.400),(3.87,0.432),(3.83,0.460),(3.85,0.490),(3.86,0.510),
           (3.94,0.350),(3.96,0.368),(3.95,0.405),(3.97,0.435),(3.93,0.462),(3.95,0.495),(3.96,0.522),
           (4.04,0.360),(4.06,0.385),(4.05,0.410),(4.07,0.440),(4.03,0.468),(4.05,0.500),(4.06,0.530),
           (4.14,0.360),(4.16,0.388),(4.15,0.418),(4.17,0.448),(4.13,0.478),(4.15,0.510),(4.16,0.538),
           (4.24,0.370),(4.26,0.400),(4.25,0.430),(4.27,0.460),(4.23,0.490),(4.25,0.520),(4.26,0.545),
           (4.34,0.375),(4.36,0.405),(4.35,0.435),(4.37,0.465),(4.33,0.495),(4.35,0.525),(4.36,0.550),
           (4.44,0.385),(4.46,0.415),(4.45,0.445),(4.47,0.475),(4.43,0.505),(4.45,0.535),(4.46,0.560),
           (4.54,0.390),(4.56,0.420),(4.55,0.450),(4.57,0.485),(4.53,0.515),(4.55,0.545),(4.56,0.570),
           (4.64,0.400),(4.66,0.430),(4.65,0.462),(4.67,0.495),(4.63,0.528),(4.65,0.560),
           (4.74,0.410),(4.76,0.445),(4.75,0.478),(4.77,0.510),(4.73,0.540),(4.75,0.570),
           (4.84,0.420),(4.86,0.455),(4.85,0.490),(4.87,0.520),(4.83,0.550),
           (4.94,0.430),(4.96,0.465),(4.95,0.500),(4.97,0.530),(4.93,0.560),
           (5.04,0.445),(5.06,0.480),(5.05,0.510),(5.07,0.545)]

panel_titles = ["(A) SSS: High-Skill", "(B) Non-SSS: High-Skill",
                "(C) SSS: Low-Skill", "(D) Non-SSS: Low-Skill"]
x_tick_values = [1e2, 1e3, 1e4, 1e5, 1e6, 10**6.51]
x_tick_labels = ["100", "1K", "10K", "100K", "1M", ""]
y_tick_values = [0, 0.2, 0.4, 0.6, 0.8, 1.0]
y_tick_labels = ["0", ".2", ".4", ".6", ".8", "1"]

RED = "#c10b3a"
BLUE = "#1f4eb2"

# ---------------- figure ----------------
sns.set_theme(style="white")
plt.rcParams["font.family"] = ["DejaVu Serif"]

W, H = 1082, 1140
fig = plt.figure(figsize=(W / 100, H / 100), dpi=100)


def frame(pairs_lists):
    rows = [p for lst in pairs_lists for p in lst]
    df = pd.DataFrame(rows, columns=["log_emp", "prod"])
    df["emp"] = 10 ** df["log_emp"]
    return df


panels = [
    (frame([a_core, a_core2, a_tail]), RED, 124.0, 88.0, 44.1, 406.4),
    (frame([b_core, b_core2, b_upper, b_tail]), BLUE, 689.5, 87.4, 44.1, 406.4),
    (frame([c_core, c_core2, c_tail, c_steep]), RED, 124.0, 88.0, 647.5, 406.8),
    (frame([d_core, d_core2, d_right, d_tail]), BLUE, 689.5, 87.4, 647.5, 406.8),
]
title_pos = [(322.6, 32.0), (887.0, 32.0), (322.6, 635.0), (887.0, 635.0)]
xlabel_pos = [(322.6, 527.5), (887.0, 527.5), (322.6, 1131.0), (887.0, 1131.0)]

for i, (df, col, left, dec, top, h) in enumerate(panels):
    wpx = dec * 4.62
    ax = fig.add_axes([left / W, 1 - (top + h) / H, wpx / W, h / H])
    sns.scatterplot(data=df, x="emp", y="prod", ax=ax, marker="o", s=24,
                    facecolor="none", edgecolor=col, linewidth=1.4, legend=False,
                    zorder=3)
    ax.set_xscale("log")
    ax.set_xlim(100, 10 ** (2 + 4.62))
    ax.set_ylim(0, 1.024)
    ax.xaxis.set_major_locator(FixedLocator(x_tick_values))
    ax.xaxis.set_major_formatter(FixedFormatter(x_tick_labels))
    ax.xaxis.set_minor_locator(NullLocator())
    ax.yaxis.set_major_locator(FixedLocator(y_tick_values))
    ax.yaxis.set_major_formatter(FixedFormatter(y_tick_labels))
    ax.grid(True, color="#c8c8c8", linestyle=(0, (1, 3)), linewidth=1.0, zorder=0)
    ax.set_axisbelow(True)
    for s in ("top", "right"):
        ax.spines[s].set_visible(False)
    for s in ("left", "bottom"):
        ax.spines[s].set_color("#a6a6a6")
        ax.spines[s].set_linewidth(1.0)
        ax.spines[s].set_position(("outward", 9.4))
    ax.spines["left"].set_bounds(0, 1)
    ax.spines["bottom"].set_bounds(100, 10 ** 6.51)
    ax.tick_params(axis="both", direction="out", length=5, width=1.0,
                   color="#a6a6a6", labelsize=15.5, labelcolor="#111111", pad=3)
    ax.tick_params(axis="x", pad=4)
    ax.set_xlabel("")
    ax.set_ylabel("")
    ax.patch.set_alpha(0)

    tx, ty = title_pos[i]
    fig.text(tx / W, 1 - ty / H, panel_titles[i], ha="center", va="baseline",
             fontsize=15.5, color="#111111")
    lx, ly = xlabel_pos[i]
    fig.text(lx / W, 1 - ly / H, "1980 Employment", ha="center", va="baseline",
             fontsize=16.3, color="#111111")
    spine_x = left - 13.0
    ymid = top + h - 0.5 * (h / 1.024)
    fig.text((spine_x - 90.5) / W, 1 - ymid / H, "Local Productivity", rotation=90,
             ha="center", va="center", fontsize=16.5, color="#111111")
    fig.text((spine_x - 59.0) / W, 1 - ymid / H, "Relative to Maximum", rotation=90,
             ha="center", va="center", fontsize=12.8, color="#111111")

fig.savefig("out.png", dpi=100, facecolor="white")
